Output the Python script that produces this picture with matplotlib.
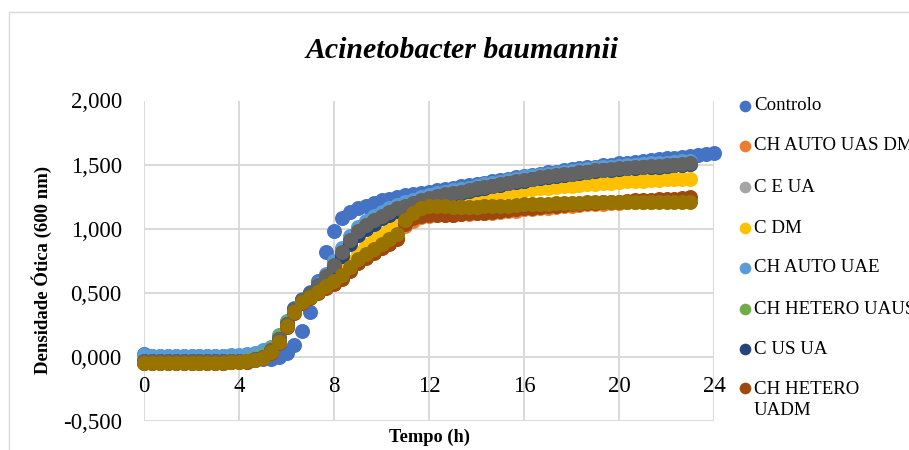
import numpy as np
import matplotlib.pyplot as plt
from matplotlib.lines import Line2D
from matplotlib.patches import Rectangle
from matplotlib.ticker import FuncFormatter

plt.rcParams['font.family'] = ['Liberation Serif', 'DejaVu Serif']

# leituras de DO600 a cada 20 min
tempo = np.arange(73) / 3.0

controlo = [
    0.025, 0.005, 0.005, 0.005, 0.005, 0.005, 0.005, 0.005, 0.005, 0.005,
    0.005, 0.005, 0.003, 0.0, -0.01, -0.02, -0.02, 0.0, 0.03, 0.09,
    0.20, 0.35, 0.59, 0.82, 0.98, 1.08, 1.13, 1.16, 1.18, 1.20,
    1.22, 1.235, 1.25, 1.26, 1.27, 1.28, 1.29, 1.30, 1.31, 1.32,
    1.33, 1.34, 1.35, 1.36, 1.37, 1.38, 1.39, 1.40, 1.41, 1.42,
    1.43, 1.44, 1.445, 1.455, 1.465, 1.47, 1.48, 1.485, 1.495, 1.50,
    1.51, 1.515, 1.52, 1.53, 1.535, 1.54, 1.55, 1.555, 1.56, 1.565,
    1.575, 1.58, 1.59]

ch_auto_uas_dm = [
    -0.045, -0.045, -0.045, -0.045, -0.045, -0.045, -0.045, -0.045, -0.045, -0.045,
    -0.045, -0.043, -0.04, -0.036, -0.027, -0.008, 0.035, 0.115, 0.235, 0.345,
    0.425, 0.465, 0.505, 0.545, 0.58, 0.62, 0.68, 0.74, 0.78, 0.82,
    0.86, 0.89, 0.93, 1.02, 1.06, 1.09, 1.10, 1.105, 1.11, 1.11,
    1.115, 1.115, 1.12, 1.12, 1.125, 1.13, 1.135, 1.14, 1.15, 1.155,
    1.16, 1.165, 1.17, 1.175, 1.18, 1.185, 1.19, 1.19, 1.195, 1.20,
    1.20, 1.205, 1.205, 1.21, 1.21, 1.215, 1.215, 1.22, 1.22, 1.225]

c_e_ua = [
    -0.03, -0.035, -0.035, -0.035, -0.035, -0.035, -0.035, -0.035, -0.035, -0.035,
    -0.035, -0.034, -0.033, -0.03, -0.02, 0.0, 0.05, 0.14, 0.26, 0.37,
    0.44, 0.50, 0.56, 0.63, 0.72, 0.81, 0.90, 0.97, 1.02, 1.06,
    1.09, 1.12, 1.15, 1.175, 1.195, 1.215, 1.235, 1.25, 1.265, 1.275,
    1.285, 1.295, 1.31, 1.32, 1.33, 1.34, 1.355, 1.365, 1.375, 1.385,
    1.395, 1.405, 1.41, 1.42, 1.425, 1.435, 1.44, 1.45, 1.455, 1.46,
    1.465, 1.47, 1.475, 1.48, 1.485, 1.485, 1.49, 1.495, 1.50, 1.505]

c_dm = [
    -0.04, -0.04, -0.04, -0.04, -0.04, -0.04, -0.04, -0.04, -0.04, -0.04,
    -0.04, -0.038, -0.035, -0.03, -0.02, 0.0, 0.05, 0.13, 0.25, 0.36,
    0.44, 0.48, 0.52, 0.56, 0.61, 0.67, 0.74, 0.81, 0.87, 0.92,
    0.96, 1.00, 1.04, 1.09, 1.13, 1.16, 1.18, 1.195, 1.205, 1.215,
    1.225, 1.235, 1.245, 1.255, 1.265, 1.275, 1.285, 1.295, 1.305, 1.31,
    1.315, 1.32, 1.325, 1.33, 1.335, 1.34, 1.345, 1.35, 1.355, 1.36,
    1.365, 1.37, 1.37, 1.375, 1.38, 1.38, 1.385, 1.385, 1.39, 1.39]

ch_auto_uae = [
    0.015, 0.01, 0.01, 0.01, 0.01, 0.01, 0.01, 0.01, 0.01, 0.01,
    0.01, 0.012, 0.015, 0.02, 0.03, 0.05, 0.08, 0.17, 0.28, 0.38,
    0.45, 0.51, 0.57, 0.65, 0.75, 0.85, 0.94, 1.01, 1.06, 1.10,
    1.13, 1.16, 1.185, 1.205, 1.225, 1.245, 1.26, 1.275, 1.29, 1.30,
    1.31, 1.32, 1.335, 1.345, 1.355, 1.365, 1.38, 1.39, 1.40, 1.41,
    1.42, 1.43, 1.435, 1.445, 1.45, 1.46, 1.465, 1.475, 1.48, 1.485,
    1.49, 1.495, 1.50, 1.505, 1.51, 1.51, 1.515, 1.52, 1.525, 1.53]

ch_hetero_uaus = [
    -0.03, -0.035, -0.035, -0.035, -0.035, -0.035, -0.035, -0.035, -0.035, -0.035,
    -0.035, -0.033, -0.03, -0.025, -0.012, 0.015, 0.07, 0.16, 0.27, 0.37,
    0.44, 0.50, 0.56, 0.63, 0.72, 0.82, 0.91, 0.98, 1.03, 1.07,
    1.10, 1.13, 1.155, 1.175, 1.195, 1.215, 1.235, 1.25, 1.265, 1.275,
    1.285, 1.295, 1.31, 1.32, 1.33, 1.34, 1.355, 1.365, 1.375, 1.385,
    1.395, 1.405, 1.41, 1.42, 1.425, 1.435, 1.44, 1.45, 1.455, 1.46,
    1.465, 1.47, 1.475, 1.48, 1.485, 1.485, 1.49, 1.495, 1.50, 1.505]

c_us_ua = [
    -0.03, -0.035, -0.035, -0.035, -0.035, -0.035, -0.035, -0.035, -0.035, -0.035,
    -0.035, -0.034, -0.033, -0.03, -0.02, 0.0, 0.05, 0.14, 0.26, 0.37,
    0.44, 0.50, 0.56, 0.62, 0.70, 0.79, 0.88, 0.95, 1.00, 1.04,
    1.08, 1.11, 1.14, 1.165, 1.19, 1.21, 1.23, 1.245, 1.26, 1.27,
    1.28, 1.295, 1.31, 1.32, 1.33, 1.34, 1.355, 1.365, 1.375, 1.385,
    1.395, 1.405, 1.41, 1.42, 1.425, 1.435, 1.44, 1.45, 1.455, 1.46,
    1.465, 1.47, 1.475, 1.48, 1.485, 1.485, 1.49, 1.495, 1.50, 1.505]

ch_hetero_uadm = [
    -0.045, -0.045, -0.045, -0.045, -0.045, -0.045, -0.045, -0.045, -0.045, -0.045,
    -0.045, -0.043, -0.04, -0.036, -0.028, -0.01, 0.03, 0.11, 0.23, 0.34,
    0.42, 0.46, 0.50, 0.54, 0.57, 0.61, 0.67, 0.73, 0.77, 0.81,
    0.85, 0.88, 0.92, 1.04, 1.08, 1.10, 1.11, 1.11, 1.11, 1.11,
    1.115, 1.12, 1.12, 1.125, 1.13, 1.14, 1.145, 1.15, 1.16, 1.165,
    1.17, 1.175, 1.18, 1.185, 1.19, 1.195, 1.20, 1.20, 1.205, 1.21,
    1.21, 1.215, 1.22, 1.22, 1.225, 1.23, 1.23, 1.235, 1.24, 1.245]

serie_9 = [
    -0.03, -0.035, -0.035, -0.035, -0.035, -0.035, -0.035, -0.035, -0.035, -0.035,
    -0.035, -0.034, -0.033, -0.03, -0.02, 0.0, 0.05, 0.14, 0.26, 0.37,
    0.44, 0.50, 0.56, 0.63, 0.72, 0.82, 0.91, 0.98, 1.03, 1.07,
    1.10, 1.13, 1.16, 1.18, 1.20, 1.22, 1.24, 1.255, 1.27, 1.28,
    1.29, 1.30, 1.315, 1.325, 1.335, 1.345, 1.36, 1.37, 1.38, 1.39,
    1.40, 1.41, 1.415, 1.425, 1.43, 1.44, 1.445, 1.455, 1.46, 1.465,
    1.47, 1.475, 1.48, 1.485, 1.49, 1.49, 1.495, 1.50, 1.505, 1.51]

serie_10 = [
    -0.045, -0.045, -0.045, -0.045, -0.045, -0.045, -0.045, -0.045, -0.045, -0.045,
    -0.045, -0.043, -0.04, -0.035, -0.025, -0.005, 0.04, 0.12, 0.24, 0.35,
    0.43, 0.47, 0.51, 0.55, 0.59, 0.64, 0.70, 0.76, 0.80, 0.84,
    0.88, 0.92, 0.955, 1.07, 1.12, 1.16, 1.18, 1.18, 1.175, 1.17,
    1.17, 1.17, 1.17, 1.175, 1.175, 1.18, 1.18, 1.185, 1.19, 1.19,
    1.195, 1.195, 1.20, 1.20, 1.20, 1.20, 1.205, 1.205, 1.205, 1.21,
    1.21, 1.21, 1.21, 1.21, 1.21, 1.21, 1.21, 1.21, 1.21, 1.21]

series = [
    ("Controlo", controlo, "#4472C4"),
    ("CH AUTO UAS DM", ch_auto_uas_dm, "#ED7D31"),
    ("C E UA", c_e_ua, "#A5A5A5"),
    ("C DM", c_dm, "#FFC000"),
    ("CH AUTO UAE", ch_auto_uae, "#5B9BD5"),
    ("CH HETERO UAUS", ch_hetero_uaus, "#70AD47"),
    ("C US UA", c_us_ua, "#264478"),
    ("CH HETERO\nUADM", ch_hetero_uadm, "#9E480E"),
    (None, serie_9, "#636363"),
    (None, serie_10, "#997300"),
]

fig = plt.figure(figsize=(9.09, 4.5), dpi=100)
ax = fig.add_axes([144 / 909, 1 - 421 / 450, 570 / 909, 320.5 / 450])

for nome, valores, cor in series:
    ax.plot(tempo[:len(valores)], valores, 'o', ms=10.8, mew=0, color=cor,
            clip_on=False, zorder=3)

ax.set_xlim(0, 24)
ax.set_ylim(-0.5, 2.0)
ax.set_xticks(range(0, 25, 4))
ax.set_yticks([-0.5, 0, 0.5, 1.0, 1.5, 2.0])
ax.yaxis.set_major_formatter(FuncFormatter(lambda v, p: f"{v:.3f}".replace('.', ',')))
ax.grid(color='#D9D9D9', lw=1.4)
ax.set_axisbelow(True)
for s in ax.spines.values():
    s.set_visible(False)
# eixo horizontal cruza em 0
ax.spines['bottom'].set_position(('data', 0))
ax.tick_params(axis='x', length=0, pad=14, labelsize=16.5)
ax.tick_params(axis='y', length=0, pad=16, labelsize=16.5)

fig.text(462 / 909, 1 - 58 / 450, "Acinetobacter baumannii", ha='center',
         va='baseline', fontsize=21.5, style='italic', weight='bold')
fig.text(42 / 909, 1 - 270 / 450, "Densidade Ótica (600 nm)", rotation=90,
         ha='center', va='center', fontsize=13.5, weight='bold')
fig.text(429 / 909, 1 - 437 / 450, "Tempo (h)", ha='center', va='center',
         fontsize=13.2, weight='bold')

# legenda
leg_y = [106, 146, 187, 228, 268, 309, 349, 388]
for (nome, valores, cor), y in zip(series[:8], leg_y):
    fig.add_artist(Line2D([745 / 909], [1 - y / 450], marker='o', ms=8.4, mew=0,
                          color=cor, transform=fig.transFigure))
    n_linhas = nome.count('\n') + 1
    yc = y + (n_linhas - 1) * 12
    fig.text(754 / 909, 1 - yc / 450, nome, ha='left', va='center',
             fontsize=13.6, linespacing=1.3)

fig.add_artist(Rectangle((8.5 / 909, -0.5), 2, 1.5 - 12 / 450, fill=False,
                         ec='#D9D9D9', lw=1, transform=fig.transFigure))

fig.savefig("out.png", dpi=100)
